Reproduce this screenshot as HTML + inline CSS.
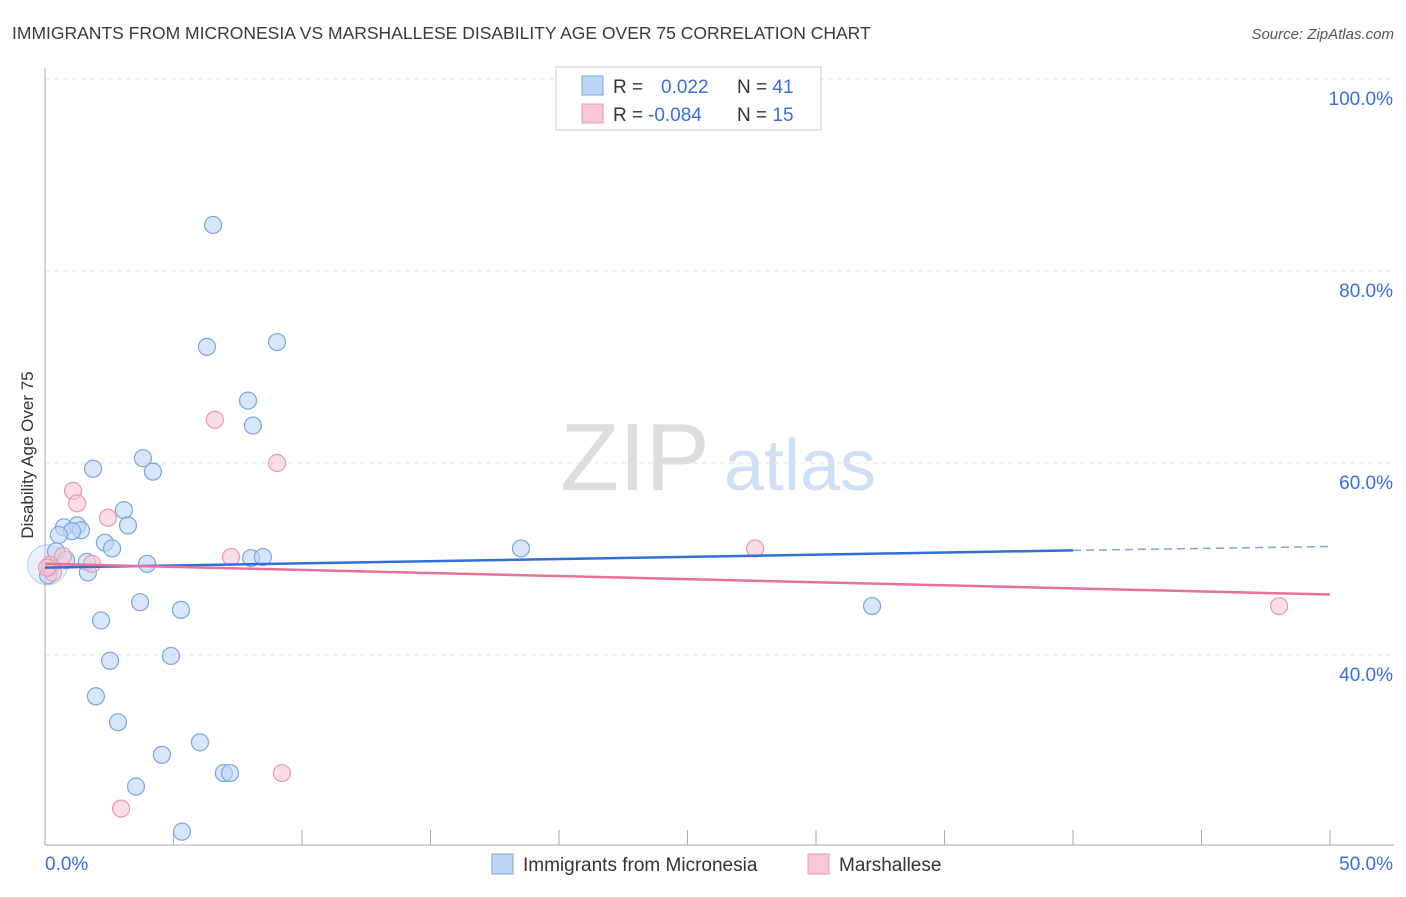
<!DOCTYPE html>
<html><head><meta charset="utf-8"><style>
body{margin:0;background:#fff;font-family:"Liberation Sans",sans-serif}
svg text{font-family:"Liberation Sans",sans-serif}
</style></head><body>
<svg id="c" width="1406" height="892">
<text x="12" y="39" font-size="17.5" fill="#3a3a3a">IMMIGRANTS FROM MICRONESIA VS MARSHALLESE DISABILITY AGE OVER 75 CORRELATION CHART</text>
<text x="1394" y="39" font-size="15" fill="#555" font-style="italic" text-anchor="end">Source: ZipAtlas.com</text>
<g><text x="635" y="490" font-size="96" fill="#ddd" font-family="Liberation Serif" text-anchor="middle">ZIP</text><text x="800" y="490" font-size="72" fill="#cfe0f5" text-anchor="middle">atlas</text></g>
<g id="grid"></g><g id="marks"></g>
<text x="-455" y="33" transform="rotate(-90)" font-size="17" fill="#333" text-anchor="middle">Disability Age Over 75</text>
<g>
<rect x="556" y="67" width="265" height="63" fill="#fff" stroke="#ccc"/>
<rect x="582" y="76" width="21" height="19" fill="#bcd5f5" stroke="#7aa7e0"/>
<rect x="582" y="104" width="21" height="19" fill="#f9c6d5" stroke="#ea98b2"/>
<text x="613" y="93" font-size="19" fill="#333">R = <tspan fill="#3a6fd8" x="661">0.022</tspan><tspan x="737" fill="#333">N = </tspan><tspan fill="#3a6fd8">41</tspan></text>
<text x="613" y="121" font-size="19" fill="#333">R = <tspan fill="#3a6fd8" x="648">-0.084</tspan><tspan x="737" fill="#333">N = </tspan><tspan fill="#3a6fd8">15</tspan></text>
</g>
<g>
<rect x="492" y="854" width="21" height="20" fill="#bcd5f5" stroke="#7aa7e0"/>
<text x="523" y="871" font-size="19" fill="#333">Immigrants from Micronesia</text>
<rect x="808" y="854" width="21" height="20" fill="#f9c6d5" stroke="#ea98b2"/>
<text x="839" y="871" font-size="19" fill="#333">Marshallese</text>
</g>
</svg>
<script>
const yTicks=[40,60,80,100];
const yTickLabels=["40.0%","60.0%","80.0%","100.0%"];
const xEndLabels=["0.0%","50.0%"];
const blueX=[6.54,6.30,9.03,7.90,8.09,3.81,4.20,1.87,3.07,3.23,0.74,1.25,1.40,1.05,0.54,2.33,2.61,0.43,1.63,3.97,0.82,8.02,8.48,18.52,1.67,0.19,0.12,3.70,5.29,32.18,2.18,4.90,2.53,1.98,2.84,6.03,4.55,6.96,7.20,3.54,5.33];
const blueY=[84.8,72.1,72.6,66.5,63.9,60.5,59.1,59.4,55.1,53.5,53.3,53.5,53.0,52.9,52.5,51.7,51.1,50.8,49.7,49.5,49.9,50.1,50.2,51.1,48.6,49.1,48.3,45.5,44.7,45.1,43.6,39.9,39.4,35.7,33.0,30.9,29.6,27.7,27.7,26.3,21.6];
const pinkX=[6.61,9.03,1.09,1.25,2.45,0.70,1.83,7.24,27.63,48.02,0.19,0.31,9.22,2.96,0.08];
const pinkY=[64.5,60.0,57.1,55.8,54.3,50.3,49.5,50.2,51.1,45.1,49.4,48.6,27.7,24.0,49.1];
const blueTrend=[[0,49.1],[40,50.9],[50,51.3]];
const pinkTrend=[[0,49.5],[50,46.3]];
const NS="http://www.w3.org/2000/svg";
const X=v=>45+v/50*1285, Y=v=>79+(100-v)/20*192;
function mk(t,a,p){const e=document.createElementNS(NS,t);for(const k in a)e.setAttribute(k,a[k]);p.appendChild(e);return e;}
const g=document.getElementById('grid'), m=document.getElementById('marks');
yTicks.forEach((t,i)=>{
 const l=mk('line',{x1:45,x2:1394,y1:Y(t),y2:Y(t),stroke:'#e3e3e3','stroke-dasharray':'5,4'},g);
 
 
 const tx=mk('text',{x:1393,y:Y(t)+26,'font-size':19,fill:'#3a6fd8','text-anchor':'end'},g);tx.textContent=yTickLabels[i];
 
 
});
mk('line',{x1:45,x2:45,y1:68,y2:845,stroke:'#aaa'},g);
mk('line',{x1:45,x2:1394,y1:845,y2:845,stroke:'#aaa'},g);
for(let i=0;i<=10;i++){const l=mk('line',{x1:X(i*5),x2:X(i*5),y1:830,y2:845,stroke:'#aaa'},g);
 
 }
xEndLabels.forEach((s,i)=>{const t=mk('text',{x:i?1393:45,y:870,'font-size':19,fill:'#3a6fd8','text-anchor':i?'end':'start'},g);t.textContent=s;
 
 });
const big=mk('circle',{cx:X(0.1),cy:Y(49.4),r:20,fill:'rgba(188,213,245,0.35)',stroke:'rgba(122,167,224,0.5)'},m);


function pts(xs,ys,f,s,n){xs.forEach((x,i)=>{const c=mk('circle',{cx:X(x),cy:Y(ys[i]),r:8.5,fill:f,stroke:s,'stroke-width':1.2},m);
 
 });}
pts(blueX,blueY,'rgba(188,213,245,0.6)','#7aa7e0','micronesia-point');
pts(pinkX,pinkY,'rgba(249,198,213,0.6)','#ea98b2','marshallese-point');
let b1=mk('line',{x1:X(blueTrend[0][0]),y1:Y(blueTrend[0][1]),x2:X(blueTrend[1][0]),y2:Y(blueTrend[1][1]),stroke:'#2f6fd6','stroke-width':2.5},m);


let b2=mk('line',{x1:X(blueTrend[1][0]),y1:Y(blueTrend[1][1]),x2:X(blueTrend[2][0]),y2:Y(blueTrend[2][1]),stroke:'#7aa7e0','stroke-width':1.5,'stroke-dasharray':'8,5'},m);


let p1=mk('line',{x1:X(pinkTrend[0][0]),y1:Y(pinkTrend[0][1]),x2:X(pinkTrend[1][0]),y2:Y(pinkTrend[1][1]),stroke:'#e8709a','stroke-width':2.5},m);


</script>
</body></html>
